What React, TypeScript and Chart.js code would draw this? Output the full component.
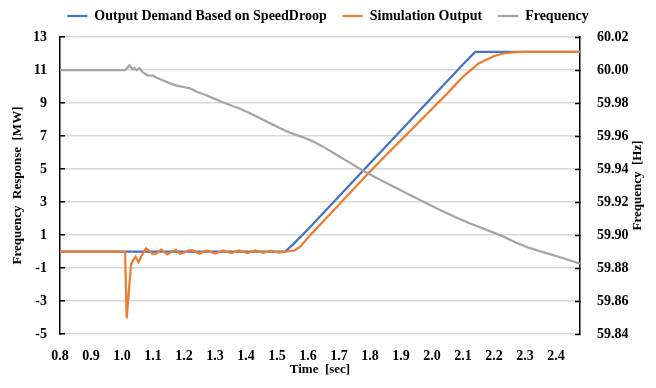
import React, { useEffect, useRef } from 'react';
import { Chart, registerables } from 'chart.js';

Chart.register(...registerables);

// ---- Data ----
const demandTime = [0.8, 1.01, 1.526, 1.55, 1.6, 1.7, 1.8, 1.9, 2.0, 2.1, 2.139, 2.477];
const demandMW = [0, 0, 0, 0.4, 1.35, 3.35, 5.35, 7.35, 9.35, 11.35, 12.1, 12.1];

const simTime = [
  0.8, 1.01, 1.015, 1.029, 1.036, 1.044, 1.053, 1.064, 1.077, 1.085,
  1.099, 1.112, 1.126, 1.146, 1.16, 1.174, 1.187, 1.2, 1.213, 1.225,
  1.25, 1.273, 1.3, 1.326, 1.352, 1.378, 1.404, 1.43, 1.455, 1.48,
  1.505, 1.53, 1.555, 1.575, 1.6, 1.62, 1.65, 1.7, 1.75, 1.8,
  1.85, 1.9, 1.95, 2.0, 2.05, 2.1, 2.15, 2.2, 2.23, 2.26,
  2.3, 2.477,
];
const simMW = [
  0, 0, -4.05, -0.82, -0.52, -0.32, -0.65, -0.21, 0.19, 0.09,
  -0.15, -0.12, 0.12, -0.18, -0.02, 0.1, -0.15, -0.06, 0.06, 0.08,
  -0.13, 0.07, -0.12, 0.07, -0.1, 0.06, -0.09, 0.06, -0.08, 0.05,
  -0.06, 0.0, 0.05, 0.3, 0.85, 1.25, 1.85, 2.85, 3.85, 4.85,
  5.8, 6.75, 7.7, 8.65, 9.6, 10.6, 11.4, 11.85, 12.0, 12.07,
  12.1, 12.1,
];

const freqTime = [
  0.8, 1.01, 1.024, 1.033, 1.04, 1.047, 1.056, 1.067, 1.083, 1.1,
  1.11, 1.133, 1.155, 1.176, 1.198, 1.219, 1.241, 1.268, 1.295, 1.321,
  1.348, 1.375, 1.402, 1.43, 1.456, 1.483, 1.51, 1.542, 1.58, 1.617,
  1.655, 1.693, 1.733, 1.773, 1.814, 1.854, 1.897, 1.94, 1.99, 2.037,
  2.08, 2.123, 2.18, 2.23, 2.27, 2.316, 2.36, 2.413, 2.477,
];
const freqHz = [
  60.0, 60.0, 60.0028, 60.0004, 60.0012, 59.9998, 60.0012, 59.9985, 59.9968, 59.9966,
  59.9955, 59.9936, 59.9919, 59.9905, 59.9897, 59.9889, 59.9868, 59.985, 59.9828, 59.9808,
  59.9788, 59.977, 59.9747, 59.9722, 59.9697, 59.9672, 59.9647, 59.962, 59.9595, 59.9566,
  59.9528, 59.9485, 59.944, 59.9394, 59.9353, 59.9313, 59.9272, 59.9232, 59.9185, 59.9141,
  59.9105, 59.907, 59.9028, 59.899, 59.8955, 59.892, 59.8895, 59.8865, 59.8826,
];

const xTicks = [0.8, 0.9, 1.0, 1.1, 1.2, 1.3, 1.4, 1.5, 1.6, 1.7, 1.8, 1.9, 2.0, 2.1, 2.2, 2.3, 2.4];
const yLeftTicks = [-5, -3, -1, 1, 3, 5, 7, 9, 11, 13];
const yRightTicks = [59.84, 59.86, 59.88, 59.9, 59.92, 59.94, 59.96, 59.98, 60.0, 60.02];

const seriesNames = ['Output Demand Based on SpeedDroop', 'Simulation Output', 'Frequency'];
const xTitle = 'Time  [sec]';
const yLeftTitle = 'Frequency  Response  [MW]';
const yRightTitle = 'Frequency  [Hz]';

const toPoints = (xs: number[], ys: number[]) => xs.map((x, i) => ({ x, y: ys[i] }));

const FONT = '"Liberation Serif", "Times New Roman", serif';

// Right-axis title drawn rotated like the left one (reading bottom-to-top)
const rightTitlePlugin = {
  id: 'rightTitle',
  afterDraw(chart: any) {
    const { ctx, chartArea } = chart;
    ctx.save();
    ctx.translate(chart.width - 18, (chartArea.top + chartArea.bottom) / 2);
    ctx.rotate(-Math.PI / 2);
    ctx.font = `bold 13px ${FONT}`;
    ctx.fillStyle = '#000';
    ctx.textAlign = 'center';
    ctx.textBaseline = 'middle';
    ctx.fillText(yRightTitle, 0, 0);
    ctx.restore();
  },
};

export default function App() {
  const ref = useRef<HTMLCanvasElement | null>(null);

  useEffect(() => {
    if (!ref.current) return;
    const tickFont = { family: FONT, size: 14, weight: 'bold' as const };
    const titleFont = { family: FONT, size: 13, weight: 'bold' as const };
    const chart = new Chart(ref.current, {
      type: 'line',
      plugins: [rightTitlePlugin],
      data: {
        datasets: [
          {
            label: seriesNames[0],
            data: toPoints(demandTime, demandMW),
            borderColor: '#4472C4',
            backgroundColor: '#4472C4',
            borderWidth: 2.25,
            pointRadius: 0,
            yAxisID: 'y',
            order: 3,
          },
          {
            label: seriesNames[1],
            data: toPoints(simTime, simMW),
            borderColor: '#ED7D31',
            backgroundColor: '#ED7D31',
            borderWidth: 2.25,
            pointRadius: 0,
            yAxisID: 'y',
            order: 2,
          },
          {
            label: seriesNames[2],
            data: toPoints(freqTime, freqHz),
            borderColor: '#A5A5A5',
            backgroundColor: '#A5A5A5',
            borderWidth: 2.25,
            pointRadius: 0,
            yAxisID: 'y1',
            order: 1,
          },
        ],
      },
      options: {
        responsive: false,
        animation: false,
        devicePixelRatio: 1,
        layout: { padding: { top: -7, left: 0, right: 0, bottom: 0 } },
        plugins: {
          tooltip: { enabled: false },
          legend: {
            position: 'top',
            labels: {
              font: tickFont,
              color: '#000',
              usePointStyle: true,
              pointStyle: 'line',
              pointStyleWidth: 20,
              padding: 16,
              sort: (a: any, b: any) => a.datasetIndex - b.datasetIndex,
            },
          },
        },
        scales: {
          x: {
            type: 'linear',
            position: 'bottom',
            min: 0.8,
            max: 2.477,
            grid: { display: false },
            border: { display: false },
            afterBuildTicks: (s: any) => {
              s.ticks = xTicks.map((v) => ({ value: v }));
            },
            afterFit: (s: any) => {
              s.height = 54;
            },
            ticks: {
              autoSkip: false,
              maxRotation: 0,
              font: tickFont,
              color: '#000',
              padding: 6,
              callback: (v: any) => Number(v).toFixed(1),
            },
            title: {
              display: true,
              text: xTitle,
              font: titleFont,
              color: '#000',
              padding: { top: 0, bottom: 11 },
            },
          },
          xTop: {
            type: 'linear',
            position: 'top',
            display: true,
            grid: { display: false },
            border: { display: false },
            ticks: { display: false },
            afterFit: (s: any) => {
              s.height = 4;
            },
          },
          y: {
            type: 'linear',
            position: 'left',
            min: -5,
            max: 13,
            afterBuildTicks: (s: any) => {
              s.ticks = yLeftTicks.map((v) => ({ value: v }));
            },
            afterFit: (s: any) => {
              s.width = 60;
            },
            grid: {
              color: '#D9D9D9',
              lineWidth: 1.5,
              tickLength: -5,
              tickColor: '#000',
              tickWidth: 1.5,
            },
            border: { display: true, color: '#000', width: 1.5 },
            ticks: {
              font: tickFont,
              color: '#000',
              padding: 18,
              callback: (v: any) => String(v),
            },
            title: {
              display: true,
              text: yLeftTitle,
              font: titleFont,
              color: '#000',
              padding: { top: 10, bottom: 0 },
            },
          },
          y1: {
            type: 'linear',
            position: 'right',
            min: 59.84,
            max: 60.02,
            afterBuildTicks: (s: any) => {
              s.ticks = yRightTicks.map((v) => ({ value: v }));
            },
            afterFit: (s: any) => {
              s.width = 76;
            },
            grid: {
              drawOnChartArea: false,
              tickLength: -5,
              tickColor: '#000',
              tickWidth: 1.5,
            },
            border: { display: true, color: '#000', width: 1.5 },
            ticks: {
              font: tickFont,
              color: '#000',
              padding: 22,
              callback: (v: any) => Number(v).toFixed(2),
            },
            title: { display: false },
          },
        },
      },
    });
    return () => chart.destroy();
  }, []);

  return (
    <div style={{ position: 'absolute', left: 0, top: 0, width: 656, height: 388, background: '#fff' }}>
      <canvas ref={ref} width={656} height={388} style={{ display: 'block' }} />
    </div>
  );
}
